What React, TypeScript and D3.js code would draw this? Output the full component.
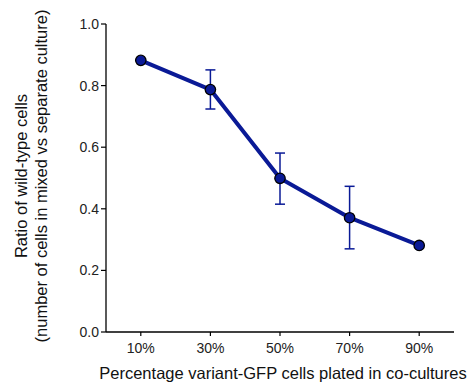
import React from "react";
import * as d3 from "d3";

const categories = ["10%", "30%", "50%", "70%", "90%"];
const means = [0.882, 0.787, 0.499, 0.371, 0.281];
const errLow = [0.882, 0.724, 0.415, 0.27, 0.281];
const errHigh = [0.882, 0.851, 0.581, 0.473, 0.281];
const yTicks = [0, 0.2, 0.4, 0.6, 0.8, 1.0];

const W = 468, H = 392;
const left = 106, right = 454, top = 24, bottom = 332;
const font = "'Liberation Sans', Arial, sans-serif";
const blue = "#0a1a96";

export default function App() {
  const x = d3.scalePoint<string>().domain(categories).range([left, right]).padding(0.5);
  const y = d3.scaleLinear().domain([0, 1]).range([bottom, top]);
  const line = d3.line<number>().x((_, i) => x(categories[i])!).y(d => y(d));
  return (
    <svg width={W} height={H} style={{ position: "absolute", left: 0, top: 0, background: "#fff" }}>
      <line x1={left} x2={left} y1={top} y2={bottom} stroke="#000" strokeWidth={1.3} />
      <line x1={left} x2={right} y1={bottom} y2={bottom} stroke="#000" strokeWidth={1.3} />
      {yTicks.map(t => (
        <g key={t}>
          <line x1={left - 5} x2={left} y1={y(t)} y2={y(t)} stroke="#000" strokeWidth={1.2} />
          <text x={left - 7} y={y(t)} dy="0.36em" textAnchor="end" fontFamily={font} fontSize={14} fill="#222">{t.toFixed(1)}</text>
        </g>
      ))}
      {categories.map(c => (
        <g key={c}>
          <line x1={x(c)} x2={x(c)} y1={bottom} y2={bottom + 4} stroke="#000" strokeWidth={1.2} />
          <text x={x(c)} y={bottom + 21} textAnchor="middle" fontFamily={font} fontSize={14} fill="#222">{c}</text>
        </g>
      ))}
      <text x={283} y={379} textAnchor="middle" fontFamily={font} fontSize={16.5} fill="#111">Percentage variant-GFP cells plated in co-cultures</text>
      <g transform={`translate(27, 176) rotate(-90)`}>
        <text x={0} y={0} textAnchor="middle" fontFamily={font} fontSize={16.5} fill="#111">Ratio of wild-type cells</text>
        <text x={0} y={20} textAnchor="middle" fontFamily={font} fontSize={16.5} fill="#111">(number of cells in mixed vs separate culture)</text>
      </g>
      {categories.map((c, i) => (
        <g key={c} stroke={blue} strokeWidth={1.5}>
          <line x1={x(c)} x2={x(c)} y1={y(errLow[i])} y2={y(errHigh[i])} />
          <line x1={x(c)! - 5} x2={x(c)! + 5} y1={y(errLow[i])} y2={y(errLow[i])} />
          <line x1={x(c)! - 5} x2={x(c)! + 5} y1={y(errHigh[i])} y2={y(errHigh[i])} />
        </g>
      ))}
      <path d={line(means)!} fill="none" stroke={blue} strokeWidth={4} strokeLinejoin="round" />
      {categories.map((c, i) => (
        <circle key={c} cx={x(c)} cy={y(means[i])} r={5.2} fill={blue} stroke="#000" strokeWidth={1.3} />
      ))}
    </svg>
  );
}
